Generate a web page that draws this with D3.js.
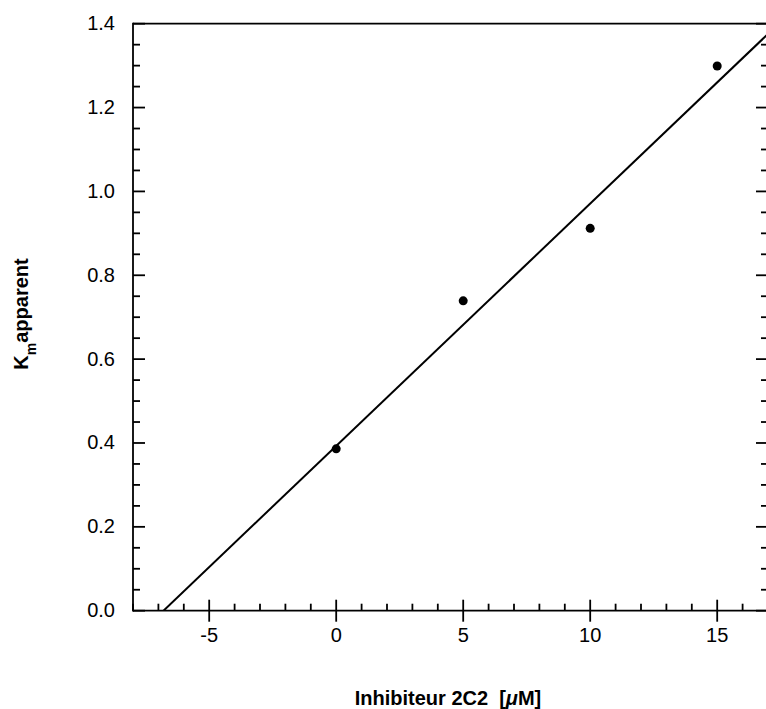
<!DOCTYPE html>
<html><head><meta charset="utf-8">
<script src="https://cdn.jsdelivr.net/npm/d3@7"></script>
<style>body{margin:0;background:#fff}svg{display:block}text{font-family:"Liberation Sans",Arial,Helvetica,sans-serif;white-space:pre}</style>
</head><body><svg id="c" width="766" height="709"></svg>
<script>
const inhibitor = [0, 5, 10, 15];
const kmApparent = [0.386, 0.739, 0.912, 1.299];
const fitIntercept = [0.393];
const fitSlope = [0.0578];
const xTicks = [-5, 0, 5, 10, 15];
const yTicks = [0.0, 0.2, 0.4, 0.6, 0.8, 1.0, 1.2, 1.4];

const svg = d3.select("#c");
const L = 133, R = 768, T = 23.7, B = 610.7;
const x = d3.scaleLinear().domain([-8, 17]).range([L, R]);
const y = d3.scaleLinear().domain([0, 1.4]).range([B, T]);
const sw = 1.8;

const xMinor = d3.range(-8, 18, 1).filter(v => v % 5 !== 0);
const yMinor = d3.range(0, 1.401, 0.05).filter(v => Math.abs(v*5 - Math.round(v*5)) > 1e-6);
const g = svg.append("g").attr("stroke", "#000").attr("stroke-width", sw);
g.append("line").attr("x1", L).attr("x2", L).attr("y1", T - 0.9).attr("y2", B + 0.9);
g.append("line").attr("x1", L).attr("x2", R).attr("y1", B).attr("y2", B);
g.append("line").attr("x1", L).attr("x2", R).attr("y1", T).attr("y2", T);
g.append("line").attr("x1", R).attr("x2", R).attr("y1", T).attr("y2", B);
g.selectAll(".xm").data(xTicks).join("line").attr("x1", d => x(d)).attr("x2", d => x(d)).attr("y1", B - 11).attr("y2", B + 11);
g.selectAll(".xn").data(xMinor).join("line").attr("x1", d => x(d)).attr("x2", d => x(d)).attr("y1", B - 7).attr("y2", B);
g.selectAll(".ym").data(yTicks).join("line").attr("x1", L).attr("x2", L + 12).attr("y1", d => y(d)).attr("y2", d => y(d));
g.selectAll(".yn").data(yMinor).join("line").attr("x1", L).attr("x2", L + 7).attr("y1", d => y(d)).attr("y2", d => y(d));
g.selectAll(".ymr").data(yTicks).join("line").attr("x1", R - 12).attr("x2", R).attr("y1", d => y(d)).attr("y2", d => y(d));
g.selectAll(".ynr").data(yMinor).join("line").attr("x1", R - 7).attr("x2", R).attr("y1", d => y(d)).attr("y2", d => y(d));

svg.selectAll(".xl").data(xTicks).join("text").attr("x", d => x(d)).attr("y", B + 31.6)
  .attr("text-anchor", "middle").attr("font-size", 20).text(d => d);
svg.selectAll(".yl").data(yTicks).join("text").attr("x", L - 18).attr("y", d => y(d) + 6.5)
  .attr("text-anchor", "end").attr("font-size", 20).text(d => d.toFixed(1));

const x0 = -fitIntercept[0] / fitSlope[0];
const x1 = 17;
svg.append("defs").append("clipPath").attr("id", "clp").append("rect").attr("x", L).attr("y", T).attr("width", R - L).attr("height", B - T);
svg.append("line").attr("clip-path", "url(#clp)")
  .attr("x1", x(x0)).attr("y1", y(0)).attr("x2", x(x1)).attr("y2", y(fitIntercept[0] + fitSlope[0] * x1))
  .attr("stroke", "#000").attr("stroke-width", 2);

svg.selectAll(".pt").data(inhibitor).join("circle")
  .attr("cx", d => x(d)).attr("cy", (d, i) => y(kmApparent[i])).attr("r", 4.5).attr("fill", "#000");

const xt = svg.append("text").attr("x", 448).attr("y", 705).attr("text-anchor", "middle")
  .attr("font-size", 20).attr("font-weight", "bold");
xt.append("tspan").text("Inhibiteur 2C2  [");
xt.append("tspan").attr("font-style", "italic").text("μ");
xt.append("tspan").text("M]");

const yt = svg.append("text").attr("transform", "translate(27.5,314) rotate(-90)").attr("text-anchor", "middle")
  .attr("font-size", 20).attr("font-weight", "bold");
yt.append("tspan").text("K");
yt.append("tspan").attr("font-size", 14).attr("dy", 8).text("m");
yt.append("tspan").attr("dy", -8).text("apparent");
</script></body></html>
